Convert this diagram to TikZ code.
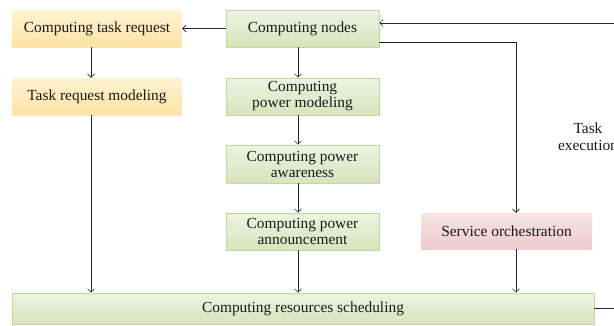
\documentclass[tikz,border=0pt]{standalone}
\usepackage{fontspec}
\setmainfont{Liberation Serif}
\usetikzlibrary{arrows.meta,calc}
\definecolor{ytop}{HTML}{FFF3D2}
\definecolor{ybot}{HTML}{FDE3A4}
\definecolor{gtop}{HTML}{EDF3E2}
\definecolor{gbot}{HTML}{D7E4BD}
\definecolor{gline}{HTML}{C3D69B}
\definecolor{ptop}{HTML}{F6E4E4}
\definecolor{pbot}{HTML}{EECBCB}
\definecolor{txt}{HTML}{1A1A1A}
\begin{document}
\begin{tikzpicture}[x=1pt,y=-1pt,
  every node/.style={font=\fontsize{15.4}{16}\selectfont, text=txt},
  base/.style={rectangle, inner sep=1pt, align=center},
  ybox/.style={base, top color=ytop, bottom color=ybot, draw=none},
  gbox/.style={base, top color=gtop, bottom color=gbot, draw=gline, line width=0.6pt},
  pbox/.style={base, top color=ptop, bottom color=pbot, draw=none},
  arr/.style={draw=black!85, line width=0.6pt, -{Straight Barb[length=3.5pt,width=7pt]}},
  ln/.style={draw=black!85, line width=0.6pt}]
\useasboundingbox (0,0) rectangle (614,325);
\fill[white] (0,0) rectangle (614,325);

\node[ybox, minimum width=170pt, minimum height=37pt] (ctr) at (97,28.5) {Computing task request};
\node[ybox, minimum width=170pt, minimum height=37pt] (trm) at (97,96.5) {Task request modeling};
\node[gbox, minimum width=153pt, minimum height=37pt] (cn) at (302.5,28.5) {Computing nodes};
\node[gbox, minimum width=153pt, minimum height=37pt] (cpm) at (302.5,96.5) {Computing\\power modeling};
\node[gbox, minimum width=153pt, minimum height=38pt] (cpa) at (302.5,164) {Computing power\\awareness};
\node[gbox, minimum width=153pt, minimum height=37pt] (cpn) at (302.5,231.5) {Computing power\\announcement};
\node[pbox, minimum width=171pt, minimum height=36pt] (so) at (506.5,231) {Service orchestration};
\node[gbox, minimum width=582pt, minimum height=31pt] (crs) at (303,308.5) {Computing resources scheduling};
\node[align=center, font=\fontsize{15.4}{17}\selectfont] (te) at (588,137) {Task\\execution};

\coordinate (far) at (640,0);
\coordinate (cnin) at ([yshift=5.5pt]cn.east);
\coordinate (cnout) at ([yshift=-13.5pt]cn.east);

\draw[arr] (cn.west) -- (ctr.east);
\draw[arr] ([xshift=-6pt]ctr.south) -- ([xshift=-6pt]trm.north);
\draw[arr] ([xshift=-6pt]trm.south) -- ([xshift=-6pt]trm.south |- crs.north);
\draw[arr] ([xshift=-4.5pt]cn.south) -- ([xshift=-4.5pt]cpm.north);
\draw[arr] ([xshift=-4.5pt]cpm.south) -- ([xshift=-4.5pt]cpa.north);
\draw[arr] ([xshift=-4.5pt]cpa.south) -- ([xshift=-4.5pt]cpn.north);
\draw[arr] ([xshift=-4.5pt]cpn.south) -- ([xshift=-4.5pt]cpn.south |- crs.north);
\draw[arr] (cnout) -| ([xshift=9.5pt]so.north);
\draw[arr] ([xshift=9.5pt]so.south) -- ([xshift=9.5pt]so.south |- crs.north);
\draw[arr] (crs.east) -- (crs.east -| far) -- (far |- cnin) -- (cnin);
\end{tikzpicture}
\end{document}
